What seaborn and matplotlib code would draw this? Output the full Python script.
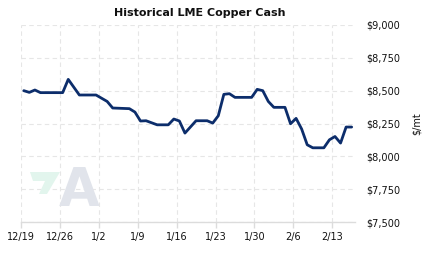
import matplotlib
matplotlib.use("Agg")
import matplotlib.pyplot as plt
from matplotlib.patches import Polygon
import seaborn as sns
import pandas as pd
import numpy as np

# ---- data ----
day_offsets = [0, 1, 2, 3, 7, 8, 10, 13, 15, 16, 19, 20, 21, 22, 24, 26, 27, 28, 29,
               31, 33, 34, 35, 36, 37, 38, 41, 42, 43, 44, 45, 47, 48, 49, 50, 51,
               52, 54, 55, 56, 57, 58, 59]
prices = [8500, 8487, 8505, 8485, 8485, 8586, 8467, 8467, 8418, 8368, 8363, 8337,
          8269, 8271, 8240, 8240, 8284, 8269, 8177, 8271, 8271, 8253, 8309, 8472,
          8477, 8449, 8449, 8510, 8500, 8418, 8373, 8373, 8248, 8289, 8208, 8088,
          8065, 8065, 8126, 8151, 8101, 8223, 8223]
tick_labels = ["12/19", "12/26", "1/2", "1/9", "1/16", "1/23", "1/30", "2/6", "2/13"]
y_ticks = [7500, 7750, 8000, 8250, 8500, 8750, 9000]
title = "Historical LME Copper Cash"
y_label = "$/mt"

start = pd.Timestamp("2016-12-19")
dates = [start + pd.Timedelta(days=d, hours=12) for d in day_offsets]
df = pd.DataFrame({"date": dates, "price": prices})

sns.set_theme(style="white")
plt.rcParams['font.family'] = ['DejaVu Sans']

W, H = 423, 257
fig = plt.figure(figsize=(W/100, H/100), dpi=100)
ax = fig.add_axes([21/W, 1-222/H, (355-21)/W, (222-25)/H])

# watermark logo (decoration, figure pixel coords)
def px(x, y):
    return (x/W, 1-y/H)
logo = Polygon([px(30, 172), px(60, 172), px(47, 194), px(39, 194), px(45, 181), px(33, 181)],
               closed=True, transform=fig.transFigure, facecolor="#e2f5ed", edgecolor="none", zorder=0)
fig.patches.append(logo)
fig.text(79/W, 1-191/H, "A", fontsize=38, fontweight="bold", color="#e1e4eb",
         ha="center", va="center", zorder=0)
ax.patch.set_alpha(0)

sns.lineplot(data=df, x="date", y="price", ax=ax, color="#0c2d6b", linewidth=2.0)

ax.set_xlim(start, start + pd.Timedelta(days=60.1))
ax.set_ylim(7500, 9000)

tick_dates = [start + pd.Timedelta(days=7*i) for i in range(len(tick_labels))]
ax.set_xticks(tick_dates)
ax.set_xticklabels(tick_labels, fontsize=7, color="#111111")
ax.set_yticks(y_ticks)
ax.set_yticklabels([f"${v:,}" for v in y_ticks], fontsize=7, color="#111111")
ax.yaxis.tick_right()
ax.yaxis.set_label_position("right")
ax.set_xlabel("")
ax.set_ylabel(y_label, fontsize=7, color="#111111", labelpad=8, rotation=90)

ax.grid(True, linestyle=(0, (4, 3)), color="#e6e6e6", linewidth=0.8)
for s in ["top", "left", "right"]:
    ax.spines[s].set_visible(False)
ax.spines["bottom"].set_color("#dcdcdc")
ax.spines["bottom"].set_linewidth(1.0)
ax.tick_params(axis="x", length=4, color="#dcdcdc", width=1, pad=3, bottom=True)
ax.tick_params(axis="y", length=0, pad=8, right=False)

fig.text(200/W, 1-13/H, title, fontsize=8, fontweight="bold", ha="center",
         va="center", color="#111111")

fig.savefig("out.png", dpi=100)
